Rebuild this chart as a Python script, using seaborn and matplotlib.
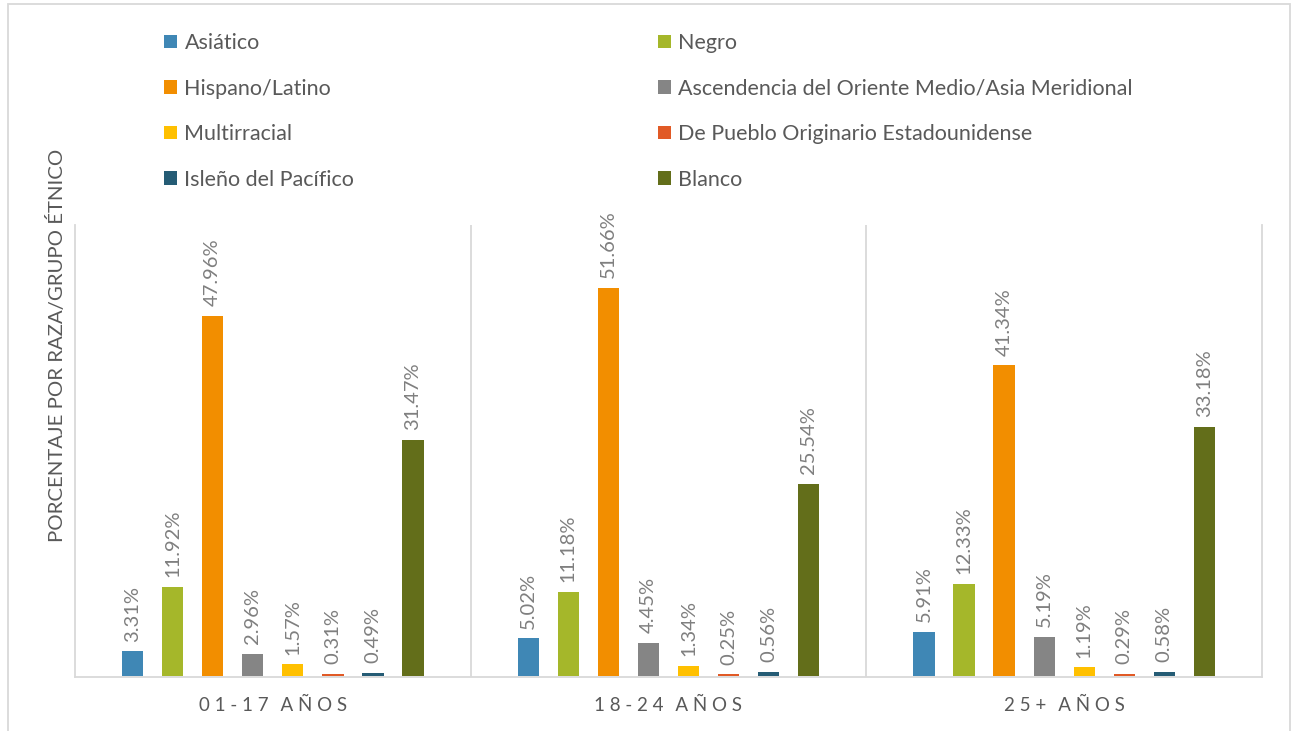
import matplotlib
matplotlib.use("Agg")
import matplotlib.pyplot as plt
from matplotlib.patches import Patch, Rectangle
import seaborn as sns
import pandas as pd

# Age groups and race/ethnicity categories
grupos = ["01-17 AÑOS", "18-24 AÑOS", "25+ AÑOS"]
razas = [
    "Asiático",
    "Negro",
    "Hispano/Latino",
    "Ascendencia del Oriente Medio/Asia Meridional",
    "Multirracial",
    "De Pueblo Originario Estadounidense",
    "Isleño del Pacífico",
    "Blanco",
]

# Percentage per race/ethnic group, one list per age group
valores_01_17 = [3.31, 11.92, 47.96, 2.96, 1.57, 0.31, 0.49, 31.47]
valores_18_24 = [5.02, 11.18, 51.66, 4.45, 1.34, 0.25, 0.56, 25.54]
valores_25_mas = [5.91, 12.33, 41.34, 5.19, 1.19, 0.29, 0.58, 33.18]

colores = ["#3F87B5", "#A5B72A", "#F28E00", "#858585",
           "#FFC000", "#E15A26", "#255C75", "#636E1A"]

filas = []
for grupo, vals in zip(grupos, [valores_01_17, valores_18_24, valores_25_mas]):
    for raza, v in zip(razas, vals):
        filas.append({"grupo": grupo, "raza": raza, "valor": v})
df = pd.DataFrame(filas)

sns.set_theme(style="white")
plt.rcParams["font.family"] = ["Lato", "DejaVu Sans"]

W, H = 1291, 731
fig = plt.figure(figsize=(W / 100, H / 100), dpi=100)
ax = fig.add_axes([75 / W, 54 / H, (1262 - 75) / W, (677 - 225) / H])

sns.barplot(data=df, x="grupo", y="valor", hue="raza", order=grupos,
            hue_order=razas, palette=colores, width=0.81, gap=0.47,
            saturation=1, legend=False, ax=ax)
for barra in ax.patches:
    barra.set_zorder(3)
    barra.set_edgecolor("none")

ax.set_ylim(-0.1, 60)
ax.set_xlim(-0.5, 2.5)
ax.set_yticks([])
ax.set_ylabel("")
ax.set_xlabel("")

# Light gray frame lines and category separators
linea = "#D9D9D9"
for lado in ["left", "right", "bottom"]:
    ax.spines[lado].set_color(linea)
    ax.spines[lado].set_linewidth(1.3)
    ax.spines[lado].set_zorder(1)
ax.spines["top"].set_visible(False)
for xs in [0.5, 1.5]:
    ax.axvline(xs, color=linea, lw=1.3, zorder=0)

# Spaced-out category labels
ax.set_xticks(range(len(grupos)))
ax.set_xticklabels([" ".join(g.replace(" ", "\u2009")) for g in grupos],
                   fontsize=13.5, color="#595959")
ax.tick_params(axis="x", length=0, pad=14)

# Value labels above each bar
for cont in ax.containers:
    for barra in cont:
        v = barra.get_height()
        ax.annotate(f"{v:.2f}%", (barra.get_x() + barra.get_width() / 2, v),
                    xytext=(0, 7), textcoords="offset points",
                    rotation=90, ha="center", va="bottom",
                    fontsize=14.5, color="#7F7F7F")

fig.text(57 / W, 1 - 345 / H, "PORCENTAJE POR RAZA/GRUPO ÉTNICO",
         rotation=90, ha="center", va="center", fontsize=14.7, color="#595959")

# Two-column legend, filled row by row
manejadores = [Patch(facecolor=c, edgecolor="none") for c in colores]
for col, x0 in enumerate([164, 658]):
    idx = list(range(col, len(razas), 2))
    leg = fig.legend([manejadores[i] for i in idx], [razas[i] for i in idx],
                     loc="upper left", bbox_to_anchor=(x0 / W, 1 - 33 / H),
                     frameon=False, fontsize=15.5, handlelength=0.6,
                     handleheight=0.6, handletextpad=0.35, labelspacing=1.19,
                     borderaxespad=0, borderpad=0)
    for t in leg.get_texts():
        t.set_color("#595959")

# Outer chart border
fig.patches.append(Rectangle((8 / W, -0.05), (1290 - 8) / W, 1.05 - 4 / H,
                             transform=fig.transFigure, fill=False,
                             edgecolor=linea, lw=1.3))

fig.savefig("out.png", dpi=100)
